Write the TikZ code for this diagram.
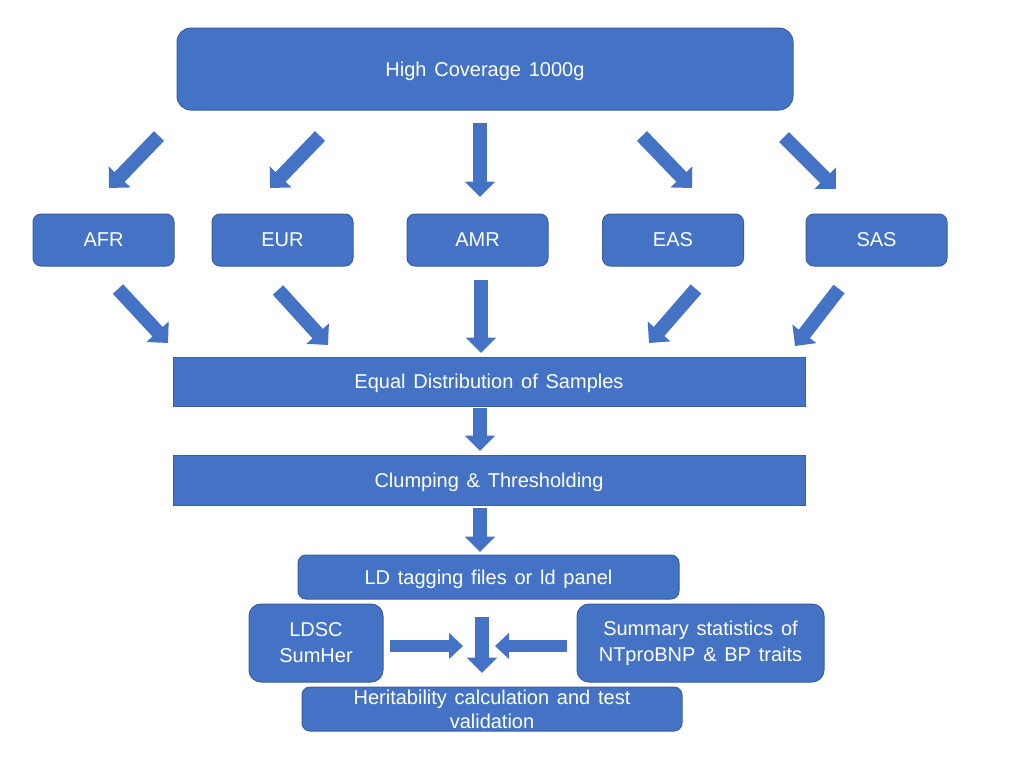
\documentclass[tikz,border=0pt]{standalone}
\usepackage{fontspec}
\setmainfont{Liberation Sans}[WordSpace=1.4]
\usetikzlibrary{arrows.meta}
\definecolor{boxblue}{HTML}{4472C4}
\definecolor{edgeblue}{HTML}{3A5F9F}
\begin{document}
\begin{tikzpicture}[x=0.75pt,y=-0.75pt,
  box/.style={draw=edgeblue,line width=0.75pt,fill=boxblue,text=white,inner sep=0pt,
    font=\fontsize{15}{19.5}\selectfont,align=center},
  onel/.style={text depth=0pt},
  barrow/.style={draw=boxblue,line width=10.5pt,
    -{Triangle[width=22pt,length=11.5pt]}},
  sarrow/.style={draw=boxblue,line width=9pt,
    -{Triangle[width=19pt,length=10.5pt]}}]
\useasboundingbox (0,0) rectangle (1024,768);
\fill[white] (0,0) rectangle (1024,768);

% boxes
\node[box,onel,rounded corners=10.5pt,minimum width=462pt,minimum height=61.5pt] (top) at (485,69) {High Coverage 1000g};
\node[box,onel,rounded corners=6pt,minimum width=105.75pt,minimum height=39pt] (afr) at (103.5,240) {AFR};
\node[box,onel,rounded corners=6pt,minimum width=105.75pt,minimum height=39pt] (eur) at (282.5,240) {EUR};
\node[box,onel,rounded corners=6pt,minimum width=105.75pt,minimum height=39pt] (amr) at (477.5,240) {AMR};
\node[box,onel,rounded corners=6pt,minimum width=105.75pt,minimum height=39pt] (eas) at (673,240) {EAS};
\node[box,onel,rounded corners=6pt,minimum width=105.75pt,minimum height=39pt] (sas) at (876.5,240) {SAS};
\node[box,onel,minimum width=474pt,minimum height=36.75pt] (eq) at (489,381.5) {Equal Distribution of Samples};
\node[box,onel,minimum width=474pt,minimum height=37.5pt] (clump) at (489,480) {Clumping \& Thresholding};
\node[box,onel,rounded corners=6pt,minimum width=285.75pt,minimum height=33pt] (ld) at (488.5,577) {LD tagging files or ld panel};
\node[box,rounded corners=9pt,minimum width=100.5pt,minimum height=58.5pt] (ldsc) at (316,643) {LDSC\\SumHer};
\node[box,rounded corners=9pt,minimum width=185.25pt,minimum height=58.5pt] (sum) at (700.5,643) {Summary statistics of\\NTproBNP \& BP traits};
\node[box,rounded corners=6pt,minimum width=285pt,minimum height=33pt,font=\fontsize{15}{18}\selectfont] (her) at (492,709) {Heritability calculation and test\\validation};

% arrow end points
\coordinate (t1) at (159,136); \coordinate (h1) at (109,188);
\coordinate (t2) at (320,136); \coordinate (h2) at (270,188);
\coordinate (t3) at (480,123); \coordinate (h3) at (480,197);
\coordinate (t4) at (642,136); \coordinate (h4) at (692,188);
\coordinate (t5) at (784,137); \coordinate (h5) at (836,189);
\coordinate (t6) at (118,289); \coordinate (h6) at (168,343);
\coordinate (t7) at (278,290); \coordinate (h7) at (328,345);
\coordinate (t8) at (481,280); \coordinate (h8) at (481,353);
\coordinate (t9) at (696,289); \coordinate (h9) at (649,343);
\coordinate (t10) at (839,289); \coordinate (h10) at (795,346);
\coordinate (t11) at (480,408); \coordinate (h11) at (480,451);
\coordinate (t12) at (480,508); \coordinate (h12) at (480,552);
\coordinate (t13) at (482,617); \coordinate (h13) at (482,673);
\coordinate (t14) at (390,646); \coordinate (h14) at (463,646);
\coordinate (t15) at (567,646); \coordinate (h15) at (495,646);

\foreach \i in {1,...,13} {\draw[barrow] (t\i) -- (h\i);}
\draw[sarrow] (t14) -- (h14);
\draw[sarrow] (t15) -- (h15);
\end{tikzpicture}
\end{document}
